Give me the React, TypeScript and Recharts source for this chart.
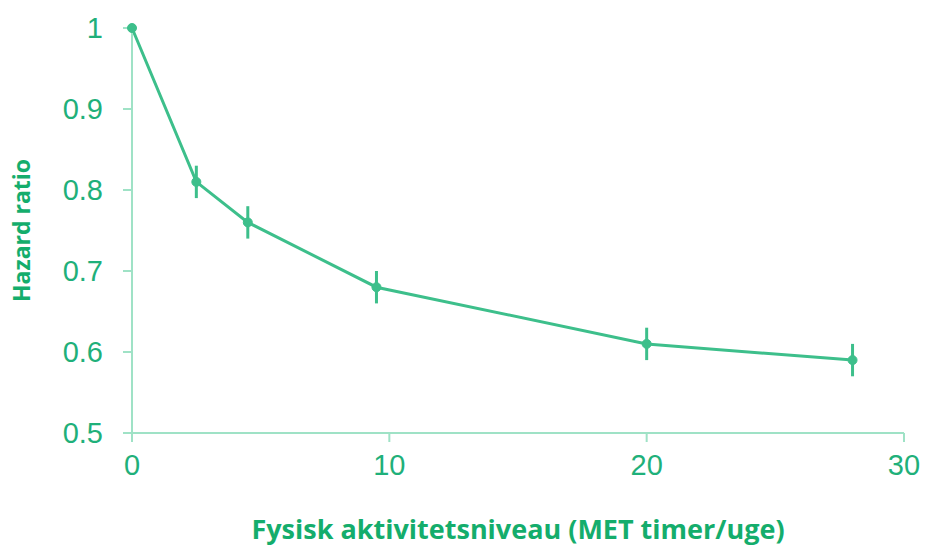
import React from 'react';
import { LineChart, Line, XAxis, YAxis, ErrorBar } from 'recharts';

const metHours = [0, 2.5, 4.5, 9.5, 20, 28];
const hazardRatio = [1, 0.81, 0.76, 0.68, 0.61, 0.59];
const errorHalfWidth = [0, 0.02, 0.02, 0.02, 0.02, 0.02];
const xTicks = [0, 10, 20, 30];
const yTicks = [0.5, 0.6, 0.7, 0.8, 0.9, 1];

const data = metHours.map((x, i) => ({ x, y: hazardRatio[i], err: errorHalfWidth[i] }));

const LINE = '#3dbf8b';
const AXIS = '#9fe2c6';
const TEXT = '#1fb07a';
const TITLE = '#14ad6c';

const yFmt = (v: number) => (v === 1 ? '1' : v.toFixed(1));

export default function App() {
  return (
    <div style={{ position: 'absolute', left: 0, top: 0, background: '#fff' }}>
      <LineChart width={925} height={548} data={data} margin={{ top: 28, right: 21, bottom: 45, left: 0 }}>
        <XAxis
          dataKey="x"
          type="number"
          domain={[0, 30]}
          ticks={xTicks}
          stroke={AXIS}
          strokeWidth={2}
          tickSize={9}
          tickMargin={12}
          height={70}
          tick={{ fill: TEXT, fontSize: 29, fontFamily: 'Liberation Sans, Arial, sans-serif' }}
          label={{
            value: 'Fysisk aktivitetsniveau (MET timer/uge)',
            position: 'insideBottom',
            offset: -36,
            fill: TITLE,
            fontSize: 27,
            fontWeight: 700,
            fontFamily: 'Open Sans, Lato, sans-serif',
          }}
        />
        <YAxis
          type="number"
          domain={[0.5, 1]}
          ticks={yTicks}
          tickFormatter={yFmt}
          stroke={AXIS}
          strokeWidth={2}
          tickSize={9}
          tickMargin={20}
          width={132}
          tick={{ fill: TEXT, fontSize: 29, fontFamily: 'Liberation Sans, Arial, sans-serif' }}
          label={{
            value: 'Hazard ratio',
            angle: -90,
            position: 'insideLeft',
            offset: 22,
            fill: TITLE,
            fontSize: 23,
            fontWeight: 700,
            fontFamily: 'Open Sans, Lato, sans-serif',
            style: { textAnchor: 'middle' },
          }}
        />
        <Line
          dataKey="y"
          stroke={LINE}
          strokeWidth={3}
          dot={{ r: 4.5, fill: LINE, stroke: LINE, strokeWidth: 1 }}
          isAnimationActive={false}
        >
          <ErrorBar dataKey="err" direction="y" width={0} stroke={LINE} strokeWidth={3} />
        </Line>
      </LineChart>
    </div>
  );
}
